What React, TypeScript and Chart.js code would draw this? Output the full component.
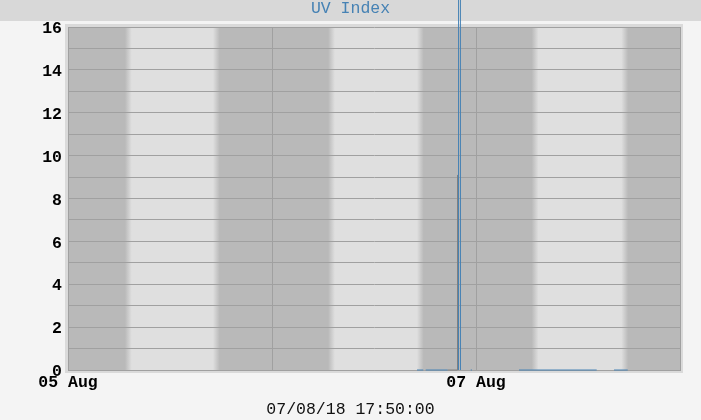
import React, { useEffect, useRef } from 'react';
import { Chart, registerables } from 'chart.js';

Chart.register(...registerables);

const TITLE = 'UV Index';
const GENERATED_AT = '07/08/18 17:50:00';

// time is in hours since 05 Aug 00:00, null breaks the line
const uvHours = [41.06, 41.8, 41.9, 42.08, 44.67, 45.3, 45.941, 46.059, 46.176, 46.6, 47.38, 47.53, 50, 53.06, 62.2, 63, 64.24, 65.85];
const uvValues = [0, 0, null, 0, 0, null, 0, 250, 0, null, 0, 0, null, 0, 0, null, 0, 0];

const otherHours = [44.67, 45.824, 45.824];
const otherValues = [0, 0, 9.1];

const sunriseHours = [7.1, 31.0, 54.95];
const sunsetHours = [17.45, 41.45, 65.5];

const xTickHours = [0, 24, 48, 72];
const xTickLabels = ['05 Aug', '', '07 Aug', ''];

const NIGHT = '#b9b9b9';
const DAY = '#dfdfdf';
const TWILIGHT = 0.8; // hours of blur between night and day

const FONT = "'Liberation Mono', 'Courier New', monospace";

const backdrop = {
  id: 'backdrop',
  beforeDraw(chart: any) {
    const { ctx, width, chartArea } = chart;
    const { left, right, top, bottom } = chartArea;
    const x = chart.scales.x;
    ctx.save();
    ctx.fillStyle = '#f4f4f4';
    ctx.fillRect(0, 0, width, chart.height);

    // title band
    ctx.fillStyle = '#d8d8d8';
    ctx.fillRect(0, 0, width, 21);
    ctx.fillStyle = '#4682b4';
    ctx.font = `16.5px ${FONT}`;
    ctx.textAlign = 'center';
    ctx.textBaseline = 'middle';
    ctx.fillText(TITLE, width / 2, 9);

    // frame round the plot
    ctx.fillStyle = '#dadada';
    ctx.fillRect(left - 3, top - 3, right - left + 6, bottom - top + 6);

    // nights and days
    ctx.fillStyle = NIGHT;
    ctx.fillRect(left, top, right - left, bottom - top);
    const tw = x.getPixelForValue(TWILIGHT) - x.getPixelForValue(0);
    sunriseHours.forEach((sr, i) => {
      const a = x.getPixelForValue(sr) - tw / 2;
      const b = x.getPixelForValue(sunsetHours[i]) + tw / 2;
      const g = ctx.createLinearGradient(a, 0, b, 0);
      const f = tw / (b - a);
      g.addColorStop(0, NIGHT);
      g.addColorStop(f, DAY);
      g.addColorStop(1 - f, DAY);
      g.addColorStop(1, NIGHT);
      ctx.fillStyle = g;
      const l = Math.max(left, a);
      const r = Math.min(right, b);
      ctx.fillRect(l, top, r - l, bottom - top);
    });

    // generation time
    ctx.fillStyle = '#111';
    ctx.font = `16.5px ${FONT}`;
    ctx.fillText(GENERATED_AT, width / 2, 410);
    ctx.restore();
  },
};

const App = () => {
  const canvasRef = useRef<HTMLCanvasElement>(null);

  useEffect(() => {
    const canvas = canvasRef.current;
    let chart: Chart | null = null;

    if (canvas) {
      chart = new Chart(canvas, {
        type: 'line',
        data: {
          datasets: [
            {
              label: 'other',
              data: otherHours.map((h, i) => ({ x: h, y: otherValues[i] })),
              borderColor: '#808080',
              borderWidth: 1,
              pointRadius: 0,
              clip: false,
            },
            {
              label: TITLE,
              data: uvHours.map((h, i) => ({ x: h, y: uvValues[i] })),
              borderColor: '#4682b4',
              borderWidth: 1,
              pointRadius: 0,
              spanGaps: false,
              clip: false,
            },
          ],
        } as any,
        options: {
          responsive: false,
          animation: false,
          layout: { padding: { left: 0, top: 27, right: 21, bottom: 0 } },
          plugins: {
            legend: { display: false },
            tooltip: { enabled: false },
          },
          scales: {
            x: {
              type: 'linear',
              min: 0,
              max: 72,
              afterFit: (s: any) => {
                s.height = 50;
              },
              afterBuildTicks: (s: any) => {
                s.ticks = xTickHours.map((v) => ({ value: v }));
              },
              ticks: {
                autoSkip: false,
                maxRotation: 0,
                padding: 3,
                color: '#000',
                font: { family: FONT, size: 16.5, weight: 'bold' },
                callback: (v: any) => xTickLabels[xTickHours.indexOf(Number(v))] ?? '',
              },
              grid: { color: '#a0a0a0', drawTicks: false },
              border: { color: '#a0a0a0' },
            },
            y: {
              min: 0,
              max: 16,
              afterFit: (s: any) => {
                s.width = 68;
              },
              ticks: {
                stepSize: 1,
                autoSkip: false,
                padding: 6,
                labelOffset: 2,
                color: '#000',
                font: { family: FONT, size: 16.5, weight: 'bold' },
                callback: (v: any) => (Number(v) % 2 === 0 ? String(v) : ''),
              },
              grid: { color: '#a0a0a0', drawTicks: false },
              border: { color: '#a0a0a0' },
            },
          },
        } as any,
        plugins: [backdrop],
      });
    }

    return () => {
      if (chart) {
        chart.destroy();
      }
    };
  }, []);

  return (
    <div style={{ position: 'fixed', left: 0, top: 0, width: 701, height: 420, background: '#f4f4f4' }}>
      <canvas ref={canvasRef} width={701} height={420}></canvas>
    </div>
  );
};

export default App;
